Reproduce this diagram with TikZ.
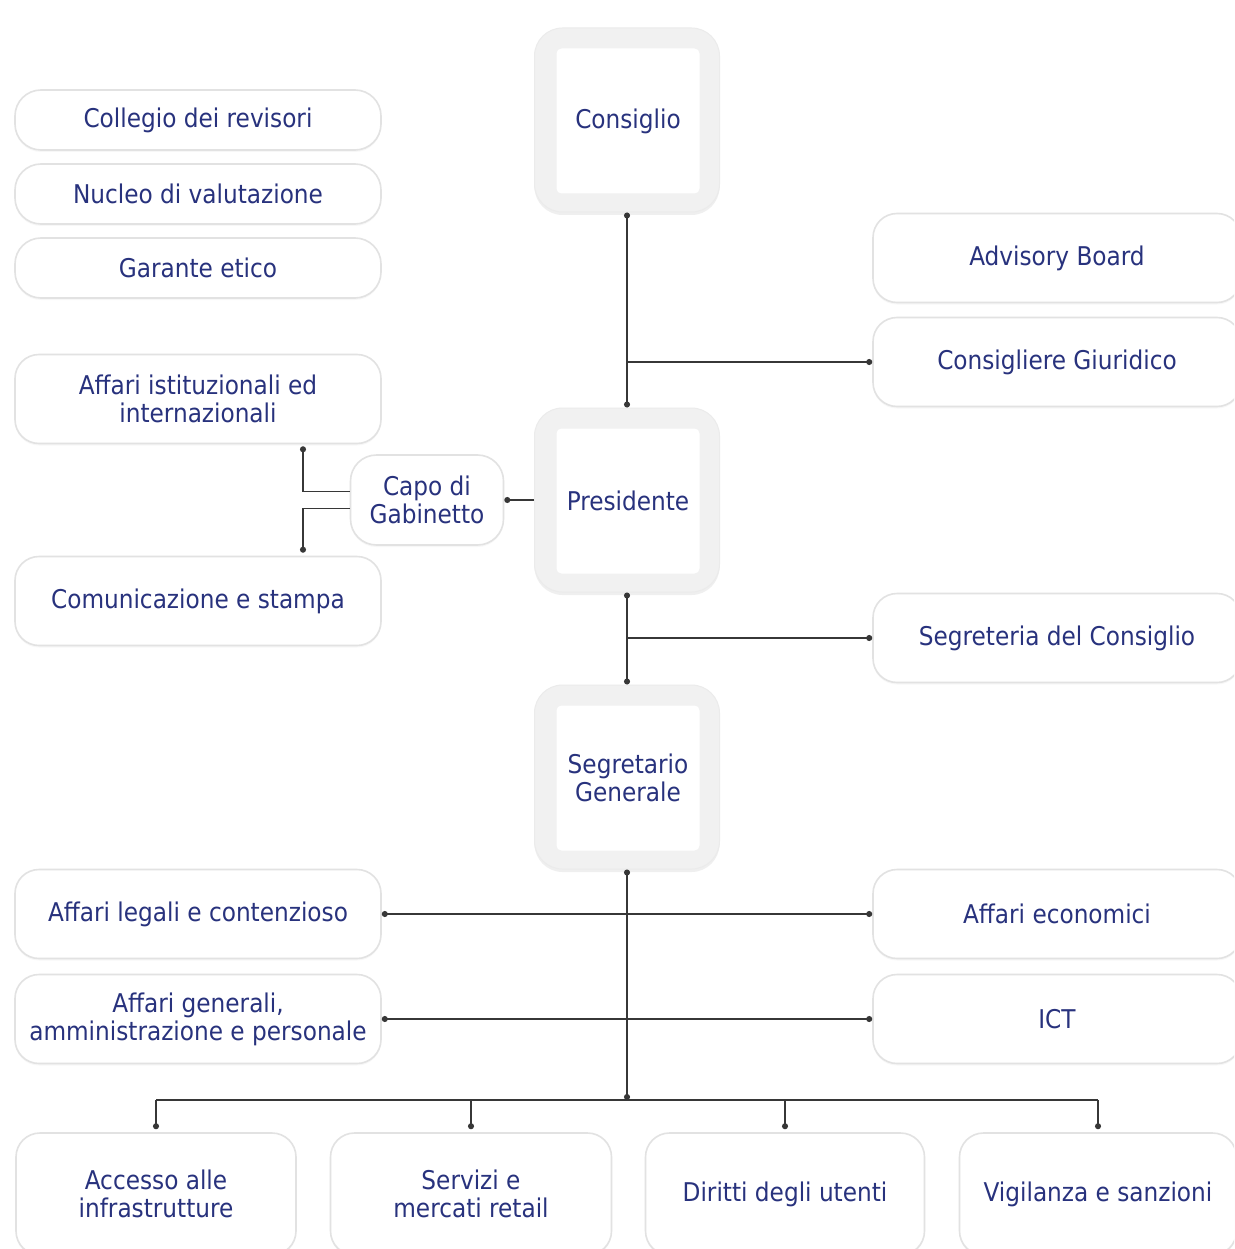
\documentclass[tikz,border=0pt]{standalone}
\usepackage{fontspec}
\setmainfont{DejaVu Sans Condensed}
\usetikzlibrary{shadows,arrows.meta}
\definecolor{txt}{RGB}{40,50,125}
\definecolor{bord}{RGB}{226,226,226}
\definecolor{outerfill}{RGB}{241,241,241}
\definecolor{lin}{RGB}{55,55,55}
\begin{document}
\begin{tikzpicture}[x=1pt,y=-1pt,
  lbl/.style={text=txt, font=\fontsize{25.8}{28}\selectfont, align=center},
  box/.style={lbl, draw=bord, line width=1.6pt, rounded corners=24pt, fill=white,
     inner sep=0pt, minimum width=366pt, minimum height=89pt,
     drop shadow={opacity=0.06, shadow xshift=0pt, shadow yshift=-2pt}},
  pill/.style={box, minimum height=60pt, rounded corners=26pt},
  bigout/.style={draw=bord!70, line width=1pt, fill=outerfill, rounded corners=28pt,
     minimum width=185pt, minimum height=184pt, inner sep=0pt,
     drop shadow={opacity=0.12, shadow xshift=0pt, shadow yshift=-3pt}},
  bigin/.style={lbl, fill=white, rounded corners=5pt, minimum width=143pt,
     minimum height=145pt, inner sep=0pt},
  conn/.style={draw=lin, line width=1.4pt},
  dot/.style={-{Circle[length=6pt,width=6pt]}},
  dots/.style={{Circle[length=6pt,width=6pt]}-{Circle[length=6pt,width=6pt]}}
]
\useasboundingbox (0,0) rectangle (1234,1249);
\clip (0,0) rectangle (1234,1249);
\fill[white] (0,0) rectangle (1234,1249);

% central column
\node[bigout] (cons) at (627,120) {};
\node[bigin]  (consI) at (628,121) {Consiglio};
\node[bigout] (pres) at (627,500) {};
\node[bigin]  (presI) at (628,501) {Presidente};
\node[bigout] (segr) at (627,777) {};
\node[bigin]  (segrI) at (628,778) {Segretario\\Generale};

% left upper
\node[pill] (coll) at (198,120) {Collegio dei revisori};
\node[pill] (nucl) at (198,194) {Nucleo di valutazione};
\node[pill] (gar)  at (198,268) {Garante etico};

\node[box] (affist) at (198,399) {Affari istituzionali ed\\internazionali};
\node[box, minimum width=153pt, minimum height=90pt, rounded corners=26pt] (capo) at (427,500) {Capo di\\Gabinetto};
\node[box] (com) at (198,601) {Comunicazione e stampa};

% right
\node[box, minimum width=368pt] (adv)  at (1057,258) {Advisory Board};
\node[box, minimum width=368pt] (giur) at (1057,362) {Consigliere Giuridico};
\node[box, minimum width=368pt] (segc) at (1057,638) {Segreteria del Consiglio};

% lower
\node[box] (leg) at (198,914) {Affari legali e contenzioso};
\node[box] (gen) at (198,1019) {Affari generali,\\amministrazione e personale};
\node[box, minimum width=368pt] (eco) at (1057,914) {Affari economici};
\node[box, minimum width=368pt] (ict) at (1057,1019) {ICT};

% bottom row
\node[box, minimum width=280pt, minimum height=122pt] (acc) at (156,1194) {Accesso alle\\infrastrutture};
\node[box, minimum width=281pt, minimum height=122pt] (serv) at (471,1194) {Servizi e\\mercati retail};
\node[box, minimum width=279pt, minimum height=122pt] (dir) at (785,1194) {Diritti degli utenti};
\node[box, minimum width=277pt, minimum height=122pt] (vig) at (1098,1194) {Vigilanza e sanzioni};

% connectors
\draw[conn, dots] (cons.south) -- (pres.north);
\draw[conn, dot] (cons.south |- giur.west) -- (giur.west);
\draw[conn, dots] (pres.south) -- (segr.north);
\draw[conn, dot] (pres.south |- segc.west) -- (segc.west);
\draw[conn, dot] (pres.west) -- (capo.east);
\draw[conn, dot] ([yshift=8.5pt]capo.west) -| ([xshift=105pt,yshift=-2pt]affist.south);
\draw[conn, dot] ([yshift=-8.5pt]capo.west) -| ([xshift=105pt,yshift=3pt]com.north);

\coordinate (bus) at (627,1100);
\draw[conn, dots] (segr.south) -- (bus);
\draw[conn, dots] (leg.east) -- (eco.west);
\draw[conn, dots] (gen.east) -- (ict.west);
\draw[conn] (acc.north |- bus) -- (vig.north |- bus);
\draw[conn, dot] (acc.north |- bus) -- ([yshift=3pt]acc.north);
\draw[conn, dot] (serv.north |- bus) -- ([yshift=3pt]serv.north);
\draw[conn, dot] (dir.north |- bus) -- ([yshift=3pt]dir.north);
\draw[conn, dot] (vig.north |- bus) -- ([yshift=3pt]vig.north);
\end{tikzpicture}
\end{document}
